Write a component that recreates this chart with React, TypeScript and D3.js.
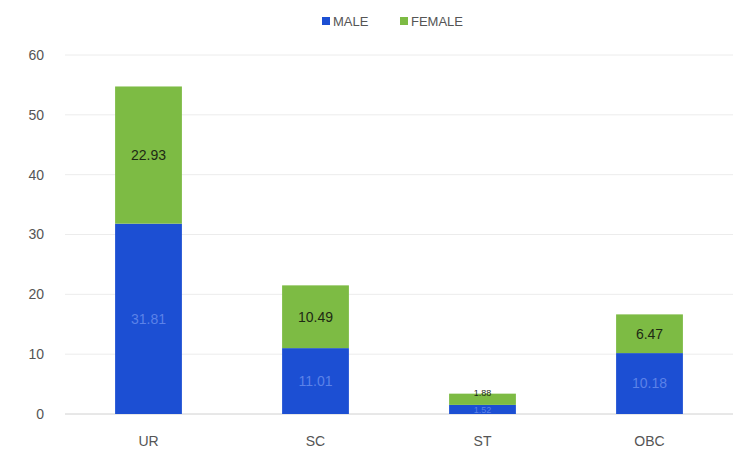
import React from "react";
import * as d3 from "d3";

const categories = ["UR", "SC", "ST", "OBC"];
const maleValues = [31.81, 11.01, 1.52, 10.18];
const femaleValues = [22.93, 10.49, 1.88, 6.47];
const seriesNames = ["MALE", "FEMALE"];
const yTicks = [0, 10, 20, 30, 40, 50, 60];

const W = 748;
const H = 469;
const margin = { left: 65, right: 15, top: 55, bottom: 55 };
const colors = { MALE: "#1c4fd3", FEMALE: "#7dbb44" };
const FONT = "'Liberation Sans', Arial, sans-serif";

export default function App() {
  const x = d3
    .scaleBand<string>()
    .domain(categories)
    .range([margin.left, W - margin.right])
    .paddingInner(0.6)
    .paddingOuter(0.3);
  const y = d3.scaleLinear().domain([0, 60]).range([H - margin.bottom, margin.top]);

  const rows = categories.map((c, i) => ({ cat: c, MALE: maleValues[i], FEMALE: femaleValues[i] }));
  const stack = d3.stack<any>().keys(seriesNames)(rows);

  return (
    <svg width={W} height={H} style={{ position: "absolute", left: 0, top: 0, background: "#fff" }} fontFamily={FONT}>
      {yTicks.map((t) => (
        <g key={t}>
          {t > 0 && (
            <line x1={margin.left} x2={W - margin.right} y1={y(t)} y2={y(t)} stroke="#ececec" strokeWidth={1} />
          )}
          <text x={44} y={y(t)} dy="0.35em" textAnchor="end" fontSize={14} fill="#555">
            {t}
          </text>
        </g>
      ))}
      <line x1={margin.left} x2={W - margin.right} y1={y(0)} y2={y(0)} stroke="#d0d0d0" strokeWidth={1} />
      {stack.map((s) => (
        <g key={s.key}>
          {s.map((d, i) => {
            const h = y(d[0]) - y(d[1]);
            const small = h < 16;
            const cy = small && s.key === "FEMALE" ? y(d[1]) - 1 : (y(d[0]) + y(d[1])) / 2;
            return (
              <g key={i}>
                <rect
                  x={x(categories[i])}
                  width={x.bandwidth()}
                  y={y(d[1])}
                  height={h}
                  fill={(colors as any)[s.key]}
                />
                <text
                  x={(x(categories[i]) as number) + x.bandwidth() / 2}
                  y={cy}
                  dy="0.35em"
                  textAnchor="middle"
                  fontSize={small ? 9 : 14}
                  fill={s.key === "FEMALE" ? "#1e2a14" : "#5b82e8"}
                >
                  {(d[1] - d[0]).toFixed(2)}
                </text>
              </g>
            );
          })}
        </g>
      ))}
      {categories.map((c) => (
        <text
          key={c}
          x={(x(c) as number) + x.bandwidth() / 2}
          y={H - margin.bottom + 27}
          dy="0.35em"
          textAnchor="middle"
          fontSize={14}
          fill="#555"
        >
          {c}
        </text>
      ))}
      {seriesNames.map((n, i) => {
        const lx = 322 + i * 78;
        return (
          <g key={n}>
            <rect x={lx} y={17} width={8} height={8} fill={(colors as any)[n]} />
            <text x={lx + 11} y={21} dy="0.35em" fontSize={13} fill="#555">
              {n}
            </text>
          </g>
        );
      })}
    </svg>
  );
}
